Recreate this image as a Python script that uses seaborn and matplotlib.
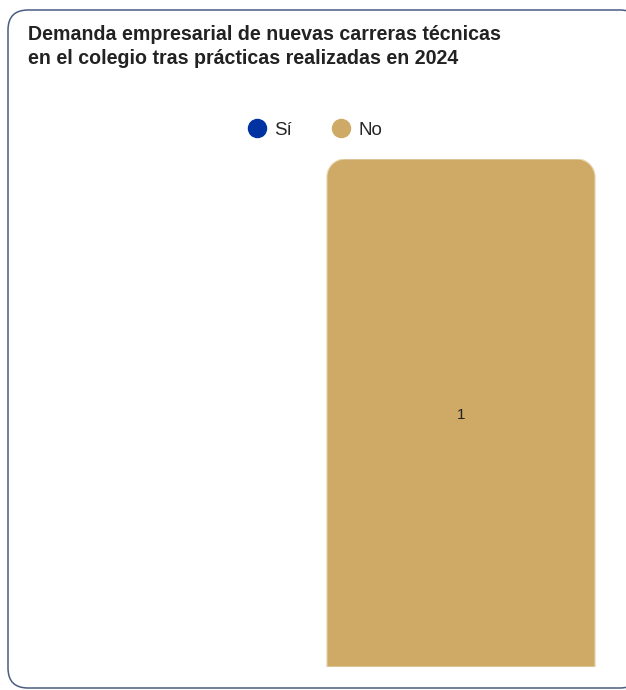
import matplotlib
matplotlib.use("Agg")
import matplotlib.pyplot as plt
import seaborn as sns
import pandas as pd
from matplotlib.patches import FancyBboxPatch, PathPatch
from matplotlib.path import Path
from matplotlib.lines import Line2D

categories = ["Sí", "No"]
values = [0, 1]
colors = ["#0033a1", "#cfaa67"]
title = "Demanda empresarial de nuevas carreras técnicas\nen el colegio tras prácticas realizadas en 2024"

sns.set_theme(style="white")
plt.rcParams['font.family'] = ['Liberation Sans', 'DejaVu Sans']

W, H = 626, 690
fig = plt.figure(figsize=(W / 100, H / 100), dpi=100)

# card
card = FancyBboxPatch((8 / W, 2 / H), (640 - 8) / W, (680 - 2) / H,
                      boxstyle="round,pad=0,rounding_size=0.032",
                      transform=fig.transFigure, facecolor="white",
                      edgecolor="#4b5d82", linewidth=1.1, mutation_aspect=W / H,
                      zorder=-5)
fig.patches.append(card)

ax = fig.add_axes([14 / W, (H - 667) / H, 596 / W, 508 / H])
ax.set_zorder(2)
df = pd.DataFrame({"cat": categories, "val": values})
sns.barplot(data=df, x="cat", y="val", hue="cat", palette=colors, width=0.9,
            saturation=1, legend=False, ax=ax, order=categories,
            hue_order=categories)
ax.set_xlim(-0.5, 1.5)
ax.set_ylim(0, 1)
ax.axis("off")

sx = 596 / 2.0   # px per x unit
sy = 508 / 1.0   # px per y unit
r_px = 18
for p in list(ax.patches):
    x0, y0 = p.get_x(), p.get_y()
    w, h = p.get_width(), p.get_height()
    fc = p.get_facecolor()
    p.remove()
    if h <= 0:
        continue
    rx = r_px / sx
    ry = min(r_px / sy, h)
    k = 0.5523
    x1, y1 = x0 + w, y0 + h
    verts = [(x0, y0), (x0, y1 - ry),
             (x0, y1 - ry + k * ry), (x0 + rx - k * rx, y1), (x0 + rx, y1),
             (x1 - rx, y1),
             (x1 - rx + k * rx, y1), (x1, y1 - ry + k * ry), (x1, y1 - ry),
             (x1, y0), (x0, y0)]
    codes = [Path.MOVETO, Path.LINETO,
             Path.CURVE4, Path.CURVE4, Path.CURVE4,
             Path.LINETO,
             Path.CURVE4, Path.CURVE4, Path.CURVE4,
             Path.LINETO, Path.CLOSEPOLY]
    ax.add_patch(PathPatch(Path(verts, codes), facecolor=fc,
                           edgecolor="#ead9b8", linewidth=0.8))
    ax.text(x0 + w / 2, y0 + h / 2 - 0.004, f"{h:g}", ha="center", va="center",
            fontsize=11, color="#222222")

fig.text(28 / W, 1 - 25 / H, title, ha="left", va="top", fontsize=14.1,
         fontweight="bold", color="#222222", linespacing=1.33)

handles = [Line2D([], [], marker="o", linestyle="", markersize=13,
                  markerfacecolor=c, markeredgecolor=c) for c in colors]
fig.legend(handles, categories, loc="center", bbox_to_anchor=(315 / W, 1 - 130 / H),
           ncol=2, frameon=False, fontsize=13.5, handletextpad=0.45,
           columnspacing=2.1, handlelength=1.0)

fig.savefig("out.png", dpi=100)
